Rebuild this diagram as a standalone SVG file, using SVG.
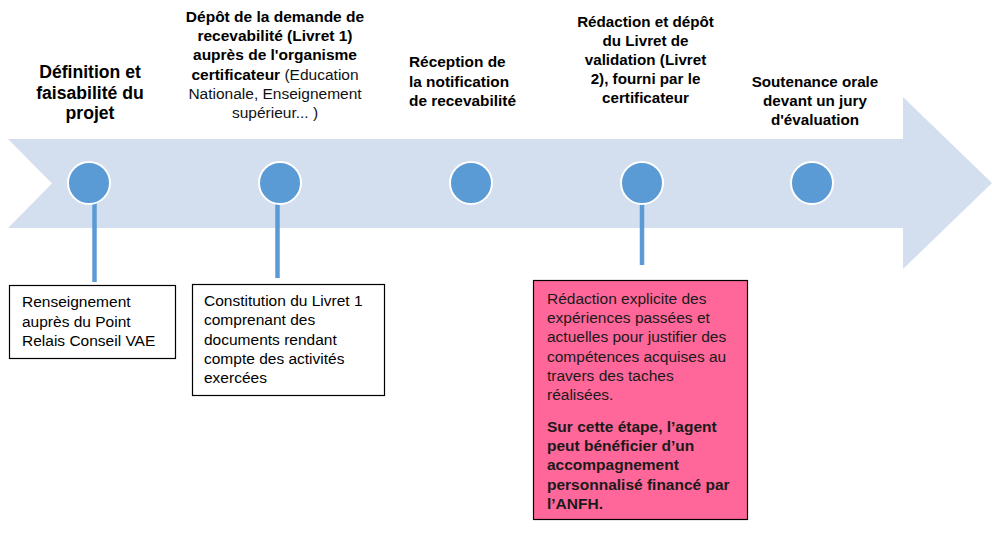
<svg xmlns="http://www.w3.org/2000/svg" width="992" height="536" viewBox="0 0 992 536">
<style>
.band{fill:#D3DEEF}
.dot{fill:#5B9BD5;stroke:#FFFFFF;stroke-width:2}
.stem{stroke:#5B9BD5;stroke-width:4.5;fill:none}
.lbl{font-family:"Liberation Sans",Arial,sans-serif;font-weight:bold;fill:#000;text-anchor:middle}
.lblr{font-family:"Liberation Sans",Arial,sans-serif;font-weight:normal;fill:#111}
.box{fill:#FFFFFF;stroke:#000;stroke-width:1.2}
.pink{fill:#FF6699;stroke:#000;stroke-width:1.2}
.bt{font-family:"Liberation Sans",Arial,sans-serif;font-size:15.5px;fill:#000}
.pt{font-family:"Liberation Sans",Arial,sans-serif;font-size:15.5px;fill:#1a1a1a}
</style>
<rect width="992" height="536" fill="#FFFFFF"/>
<g id="timeline">
<polygon class="band" points="8,139 903,139 903,97 992,183 903,269 903,228 8,228 52,183.5"/>
</g>
<g id="connectors">
<line class="stem" x1="94.5" y1="200" x2="94.5" y2="282"/>
<line class="stem" x1="277.5" y1="200" x2="277.5" y2="278"/>
<line class="stem" x1="642" y1="200" x2="642" y2="265"/>
</g>
<g id="step1">
<circle class="dot" cx="89" cy="183" r="21"/>
<text class="lbl" font-size="17.6" x="90"><tspan x="90" y="78">Définition et</tspan><tspan x="90" y="98.5">faisabilité du</tspan><tspan x="90" y="119">projet</tspan></text>
</g>
<g id="step2">
<circle class="dot" cx="280" cy="183" r="21"/>
<text class="lbl" font-size="15.5"><tspan x="275" y="22">Dépôt de la demande de</tspan><tspan x="275" y="41.2">recevabilité (Livret 1)</tspan><tspan x="275" y="60.4">auprès de l'organisme</tspan><tspan x="275" y="79.6">certificateur<tspan class="lblr"> (Education</tspan></tspan></text>
<text class="lblr" font-size="15.5" text-anchor="middle"><tspan x="275" y="98.8">Nationale, Enseignement</tspan><tspan x="275" y="118">supérieur... )</tspan></text>
</g>
<g id="step3">
<circle class="dot" cx="471" cy="183" r="21"/>
<text class="lbl" font-size="15.4" text-anchor="start" style="text-anchor:start"><tspan x="409" y="67">Réception de</tspan><tspan x="409" y="86.5">la notification</tspan><tspan x="409" y="106">de recevabilité</tspan></text>
</g>
<g id="step4">
<circle class="dot" cx="642" cy="183" r="21"/>
<text class="lbl" font-size="15.2"><tspan x="645.5" y="26.5">Rédaction et dépôt</tspan><tspan x="645.5" y="45.7">du Livret de</tspan><tspan x="645.5" y="64.9">validation (Livret</tspan><tspan x="645.5" y="84.1">2), fourni par le</tspan><tspan x="645.5" y="103.3">certificateur</tspan></text>
</g>
<g id="step5">
<circle class="dot" cx="812" cy="183" r="21"/>
<text class="lbl" font-size="15.2"><tspan x="815" y="87">Soutenance orale</tspan><tspan x="815" y="106.2">devant un jury</tspan><tspan x="815" y="125.4">d'évaluation</tspan></text>
</g>
<g id="box1">
<rect class="box" x="9.5" y="285.5" width="166" height="73"/>
<text class="bt"><tspan x="22" y="307.3">Renseignement</tspan><tspan x="22" y="326.6">auprès du Point</tspan><tspan x="22" y="345.9">Relais Conseil VAE</tspan></text>
</g>
<g id="box2">
<rect class="box" x="192.5" y="284.5" width="192" height="111"/>
<text class="bt"><tspan x="204" y="306">Constitution du Livret 1</tspan><tspan x="204" y="325.3">comprenant des</tspan><tspan x="204" y="344.6">documents rendant</tspan><tspan x="204" y="363.9">compte des activités</tspan><tspan x="204" y="383.2">exercées</tspan></text>
</g>
<g id="box3">
<rect class="pink" x="533.5" y="280.5" width="214" height="239"/>
<text class="pt"><tspan x="547" y="304">Rédaction explicite des</tspan><tspan x="547" y="323.2">expériences passées et</tspan><tspan x="547" y="342.4">actuelles pour justifier des</tspan><tspan x="547" y="361.6">compétences acquises au</tspan><tspan x="547" y="380.8">travers des taches</tspan><tspan x="547" y="400">réalisées.</tspan></text>
<text class="pt" font-weight="bold" style="font-weight:bold"><tspan x="547" y="432">Sur cette étape, l’agent</tspan><tspan x="547" y="451.2">peut bénéficier d’un</tspan><tspan x="547" y="470.4">accompagnement</tspan><tspan x="547" y="489.6">personnalisé financé par</tspan><tspan x="547" y="508.8">l’ANFH.</tspan></text>
</g>
</svg>
